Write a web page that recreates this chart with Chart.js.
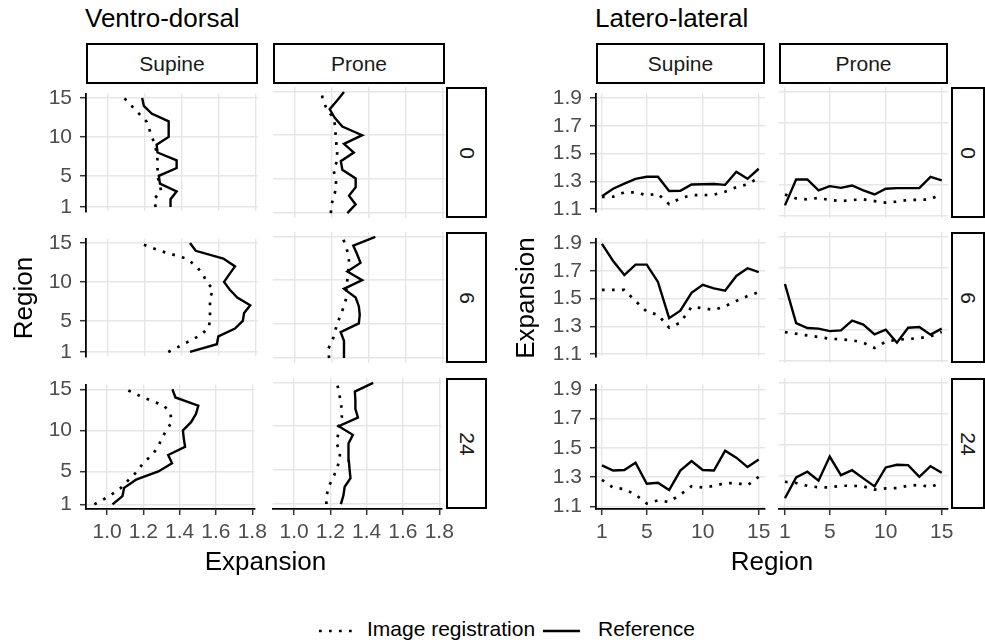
<!DOCTYPE html>
<html>
<head>
<meta charset="utf-8">
<script src="https://cdn.jsdelivr.net/npm/chart.js@4.4.1/dist/chart.umd.min.js"></script>
<style>
  body { margin: 0; width: 985px; height: 643px; background: #fff; position: relative; overflow: hidden;
         font-family: "Liberation Sans", Arial, sans-serif; }
  canvas { position: absolute; }
  .txt { position: absolute; white-space: nowrap; color: #000; }
  .strip { position: absolute; box-sizing: border-box; border: 2px solid #000; background: #fff;
           display: flex; align-items: center; justify-content: center; font-size: 21px; color: #1a1a1a; }
  .strip span { display: inline-block; }
</style>
</head>
<body>
<script>
// regions along the lung, tick labels
const regions = [1, 2, 3, 4, 5, 6, 7, 8, 9, 10, 11, 12, 13, 14, 15];
const regionTicks = [1, 5, 10, 15];
const vdTicks = [1.0, 1.2, 1.4, 1.6, 1.8];
const llTicks = [1.1, 1.3, 1.5, 1.7, 1.9];
const positions = ["Supine", "Prone"];
const hours = ["0", "6", "24"];

// Ventro-dorsal expansion, region 1..15 (Ref = reference, Reg = image registration)
const vdSupine0Ref = [1.34, 1.34, 1.373, 1.283, 1.277, 1.373, 1.373, 1.27, 1.265, 1.33, 1.33, 1.33, 1.238, 1.196, 1.187];
const vdSupine0Reg = [1.26, 1.25, 1.29, 1.28, 1.27, 1.27, 1.27, 1.265, 1.255, 1.24, 1.225, 1.21, 1.17, 1.13, 1.09];
const vdProne0Ref = [1.285, 1.33, 1.294, 1.33, 1.33, 1.258, 1.25, 1.32, 1.267, 1.365, 1.258, 1.217, 1.19, 1.23, 1.267];
const vdProne0Reg = [1.196, 1.2, 1.213, 1.226, 1.222, 1.21, 1.23, 1.23, 1.226, 1.222, 1.22, 1.21, 1.175, 1.153, 1.146];
const vdSupine6Ref = [1.445, 1.59, 1.598, 1.688, 1.73, 1.737, 1.77, 1.70, 1.66, 1.629, 1.658, 1.688, 1.625, 1.476, 1.445];
const vdSupine6Reg = [1.328, 1.41, 1.49, 1.544, 1.553, 1.553, 1.553, 1.553, 1.571, 1.535, 1.514, 1.48, 1.427, 1.283, 1.171];
const vdProne6Ref = [1.267, 1.267, 1.267, 1.249, 1.347, 1.352, 1.347, 1.33, 1.267, 1.365, 1.285, 1.356, 1.338, 1.317, 1.436];
const vdProne6Reg = [1.187, 1.18, 1.205, 1.217, 1.231, 1.249, 1.267, 1.28, 1.28, 1.285, 1.29, 1.295, 1.29, 1.276, 1.258];
const vdSupine24Ref = [1.03, 1.085, 1.094, 1.16, 1.283, 1.358, 1.337, 1.43, 1.423, 1.418, 1.463, 1.49, 1.503, 1.377, 1.36];
const vdSupine24Reg = [0.93, 1.013, 1.076, 1.12, 1.166, 1.198, 1.247, 1.283, 1.3, 1.328, 1.355, 1.35, 1.315, 1.2, 1.103];
const vdProne24Ref = [1.258, 1.272, 1.279, 1.311, 1.306, 1.302, 1.3, 1.3, 1.324, 1.246, 1.352, 1.338, 1.338, 1.335, 1.436];
const vdProne24Reg = [1.178, 1.18, 1.19, 1.214, 1.235, 1.249, 1.254, 1.235, 1.242, 1.246, 1.263, 1.263, 1.254, 1.249, 1.235];

// Latero-lateral expansion, region 1..15
const llSupine0Ref = [1.192, 1.246, 1.282, 1.317, 1.332, 1.332, 1.229, 1.231, 1.276, 1.278, 1.28, 1.274, 1.368, 1.317, 1.39];
const llSupine0Reg = [1.186, 1.188, 1.22, 1.22, 1.199, 1.209, 1.134, 1.177, 1.199, 1.199, 1.203, 1.224, 1.257, 1.278, 1.325];
const llProne0Ref = [1.164, 1.332, 1.332, 1.261, 1.289, 1.278, 1.293, 1.261, 1.235, 1.272, 1.276, 1.276, 1.276, 1.349, 1.327];
const llProne0Reg = [1.235, 1.209, 1.203, 1.212, 1.199, 1.192, 1.199, 1.203, 1.192, 1.182, 1.188, 1.199, 1.2, 1.203, 1.242];
const llSupine6Ref = [1.895, 1.771, 1.67, 1.745, 1.745, 1.62, 1.358, 1.412, 1.541, 1.599, 1.573, 1.556, 1.663, 1.719, 1.691];
const llSupine6Reg = [1.562, 1.562, 1.562, 1.482, 1.406, 1.382, 1.29, 1.326, 1.44, 1.43, 1.418, 1.444, 1.483, 1.518, 1.546];
const llProne6Ref = [1.595, 1.341, 1.309, 1.305, 1.289, 1.294, 1.358, 1.332, 1.268, 1.298, 1.214, 1.311, 1.316, 1.266, 1.305];
const llProne6Reg = [1.283, 1.272, 1.261, 1.251, 1.24, 1.235, 1.23, 1.214, 1.18, 1.22, 1.233, 1.238, 1.244, 1.255, 1.283];
const llSupine24Ref = [1.38, 1.345, 1.349, 1.399, 1.255, 1.261, 1.212, 1.345, 1.41, 1.349, 1.345, 1.481, 1.433, 1.369, 1.42];
const llSupine24Reg = [1.281, 1.229, 1.218, 1.18, 1.12, 1.141, 1.13, 1.18, 1.238, 1.229, 1.24, 1.259, 1.259, 1.244, 1.302];
const llProne24Ref = [1.152, 1.287, 1.324, 1.266, 1.423, 1.302, 1.334, 1.281, 1.229, 1.352, 1.369, 1.367, 1.291, 1.36, 1.317];
const llProne24Reg = [1.259, 1.251, 1.233, 1.223, 1.223, 1.233, 1.233, 1.229, 1.208, 1.216, 1.218, 1.233, 1.238, 1.225, 1.255];

const vdPanels = [
  [[vdSupine0Ref, vdSupine0Reg], [vdProne0Ref, vdProne0Reg]],
  [[vdSupine6Ref, vdSupine6Reg], [vdProne6Ref, vdProne6Reg]],
  [[vdSupine24Ref, vdSupine24Reg], [vdProne24Ref, vdProne24Reg]]
];
const llPanels = [
  [[llSupine0Ref, llSupine0Reg], [llProne0Ref, llProne0Reg]],
  [[llSupine6Ref, llSupine6Reg], [llProne6Ref, llProne6Reg]],
  [[llSupine24Ref, llSupine24Reg], [llProne24Ref, llProne24Reg]]
];

// layout
const rowTops = [87, 232, 378];
const panelH = 131;
const groups = [
  { name: "Ventro-dorsal", cols: [86, 273], w: 172, stripX: 446, stripW: 41, flip: true, panels: vdPanels },
  { name: "Latero-lateral", cols: [596, 779], w: 169, stripX: 951, stripW: 34, flip: false, panels: llPanels }
];
const PAD = 14;
const TICK_COLOR = "#4d4d4d";
const GRID = "#e6e6e6";

function el(cls, text, css) {
  const d = document.createElement("div");
  d.className = cls;
  if (text != null) d.innerHTML = text;
  Object.assign(d.style, css);
  document.body.appendChild(d);
  return d;
}

function fixedTicks(values) {
  return (scale) => { scale.ticks = values.map((v) => ({ value: v })); };
}

function axis(opts) {
  const shown = opts.shown;
  return {
    type: "linear",
    min: opts.min,
    max: opts.max,
    bounds: "data",
    afterBuildTicks: fixedTicks(opts.ticks),
    afterFit: (scale) => {
      if (opts.horizontal) scale.height = shown ? 40 : 0;
      else scale.width = shown ? 60 : 0;
    },
    grid: { color: GRID, lineWidth: 1.4, drawTicks: shown, tickLength: 6, tickColor: "#333", tickWidth: 1.5 },
    border: { display: shown, color: "#000", width: 1.8 },
    ticks: {
      display: shown,
      color: TICK_COLOR,
      font: { family: "Liberation Sans", size: 21 },
      padding: opts.horizontal ? 5 : 8,
      maxRotation: 0,
      autoSkip: false,
      callback: opts.fmt
    }
  };
}

function dataset(label, points, dotted) {
  return {
    label,
    data: points,
    showLine: true,
    borderColor: "#000",
    borderWidth: dotted ? 2.7 : 2.4,
    borderDash: dotted ? [2.7, 7.3] : [],
    borderCapStyle: "butt",
    pointRadius: 0,
    tension: 0,
    fill: false
  };
}

groups.forEach((g) => {
  // group title
  el("txt", g.name, { left: (g.cols[0] - 1) + "px", top: "5px", fontSize: "26px", lineHeight: "26px" });
  // column strips
  g.cols.forEach((cx, c) => {
    el("strip", positions[c], { left: cx + "px", top: "43px", width: g.w + "px", height: "41px" });
  });
  // row strips
  rowTops.forEach((ry, r) => {
    el("strip", "<span style='transform:rotate(90deg)'>" + hours[r] + "</span>",
      { left: g.stripX + "px", top: ry + "px", width: g.stripW + "px", height: panelH + "px" });
  });

  rowTops.forEach((ry, r) => {
    g.cols.forEach((cx, c) => {
      const yW = c === 0 ? 60 : 0;
      const xH = r === 2 ? 40 : 0;
      const cv = document.createElement("canvas");
      const cw = g.w + yW + 2 * PAD;
      const ch = panelH + xH + 2 * PAD;
      cv.width = cw; cv.height = ch;
      Object.assign(cv.style, { left: (cx - yW - PAD) + "px", top: (ry - PAD) + "px", width: cw + "px", height: ch + "px" });
      document.body.appendChild(cv);

      const [ref, reg] = g.panels[r][c];
      let xScale, yScale, toPts;
      if (g.flip) {
        toPts = (arr) => regions.map((reg, i) => ({ x: arr[i], y: reg }));
        xScale = axis({ horizontal: true, shown: r === 2, min: 0.884, max: 1.812, ticks: vdTicks, fmt: (v) => v.toFixed(1) });
        yScale = axis({ horizontal: false, shown: c === 0, min: 0.43, max: 15.57, ticks: regionTicks, fmt: (v) => String(v) });
      } else {
        toPts = (arr) => regions.map((reg, i) => ({ x: reg, y: arr[i] }));
        xScale = axis({ horizontal: true, shown: r === 2, min: 0.47, max: 15.56, ticks: regionTicks, fmt: (v) => String(v) });
        yScale = axis({ horizontal: false, shown: c === 0, min: 1.082, max: 1.933, ticks: llTicks, fmt: (v) => v.toFixed(1) });
      }

      new Chart(cv, {
        type: "scatter",
        data: {
          datasets: [
            dataset("Image registration", toPts(reg), true),
            dataset("Reference", toPts(ref), false)
          ]
        },
        options: {
          responsive: false,
          animation: false,
          events: [],
          layout: { padding: PAD },
          plugins: { legend: { display: false }, tooltip: { enabled: false } },
          scales: { x: xScale, y: yScale }
        }
      });
    });
  });
});

// axis titles
el("txt", "Expansion", { left: "165.5px", width: "200px", textAlign: "center", top: "548px", fontSize: "26px", lineHeight: "26px" });
el("txt", "Region", { left: "672px", width: "200px", textAlign: "center", top: "548px", fontSize: "26px", lineHeight: "26px" });
el("txt", "Region", { left: (23 - 100) + "px", top: (297.5 - 13) + "px", width: "200px", textAlign: "center",
  fontSize: "26px", lineHeight: "26px", transform: "rotate(-90deg)" });
el("txt", "Expansion", { left: (525 - 100) + "px", top: (297.5 - 13) + "px", width: "200px", textAlign: "center",
  fontSize: "26px", lineHeight: "26px", transform: "rotate(-90deg)" });

// legend
el("txt", "<svg width='34' height='8'><line x1='0' y1='4' x2='34' y2='4' stroke='#000' stroke-width='2.7' stroke-dasharray='2.7 7.3'/></svg>",
  { left: "319px", top: "627px", lineHeight: "0" });
el("txt", "Image registration", { left: "367px", top: "618px", fontSize: "21px", lineHeight: "21px" });
el("txt", "<svg width='37' height='8'><line x1='0' y1='4' x2='37' y2='4' stroke='#000' stroke-width='2.4'/></svg>",
  { left: "543px", top: "627px", lineHeight: "0" });
el("txt", "Reference", { left: "598px", top: "618px", fontSize: "21px", lineHeight: "21px" });
</script>
</body>
</html>
